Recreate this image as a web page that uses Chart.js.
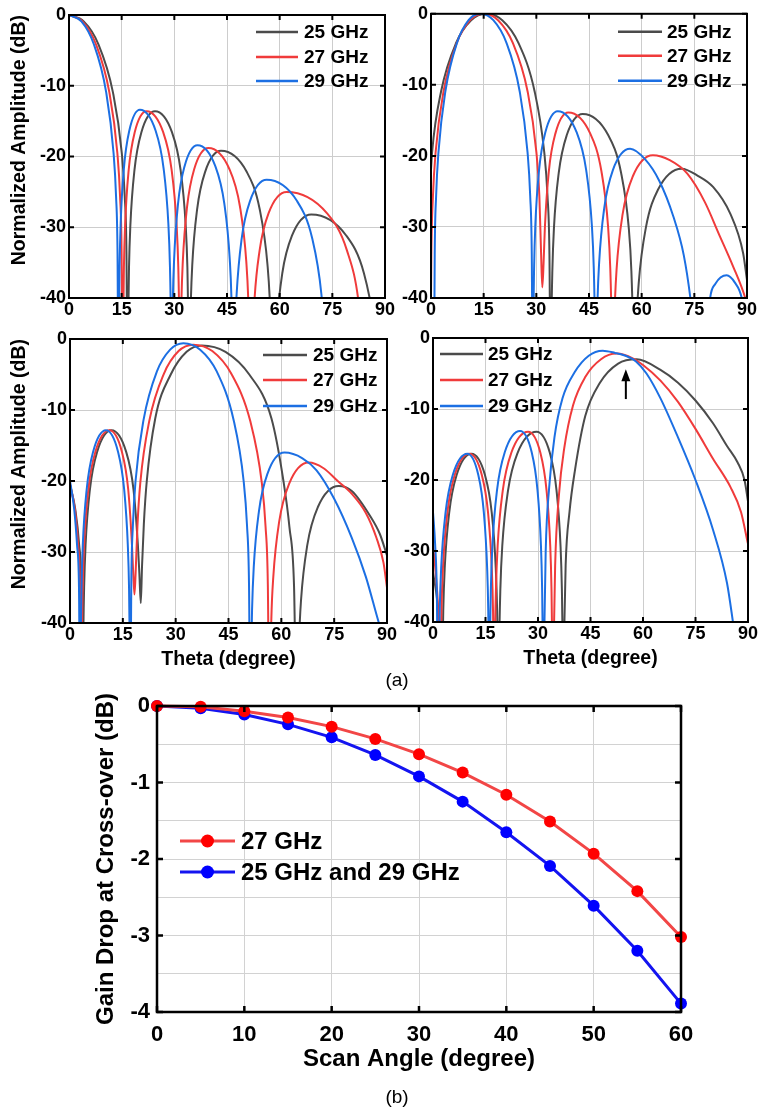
<!DOCTYPE html>
<html><head><meta charset="utf-8">
<script src="https://cdn.jsdelivr.net/npm/chart.js@4.4.0/dist/chart.umd.min.js"></script>
<style>
html,body{margin:0;padding:0;background:#fff;}
#wrap{position:relative;width:761px;height:1114px;overflow:hidden;background:#fff;}
canvas{position:absolute;left:0;top:0;}
.cap{position:absolute;font-family:"Liberation Sans",Arial,sans-serif;font-size:19px;color:#000;transform:translate(-50%,-50%);white-space:nowrap;}
</style></head><body>
<div id="wrap">
<canvas id="c1" width="761" height="1114"></canvas>
<canvas id="c2" width="761" height="1114"></canvas>
<canvas id="c3" width="761" height="1114"></canvas>
<canvas id="c4" width="761" height="1114"></canvas>
<canvas id="c5" width="761" height="1114"></canvas>
<div class="cap" style="left:397px;top:680px">(a)</div>
<div class="cap" style="left:397px;top:1097px">(b)</div>
</div>
<script>
const FONT = '"Liberation Sans", Arial, Helvetica, sans-serif';

// ---------- (a) tick labels / series names ----------
const thetaTicks = [0, 15, 30, 45, 60, 75, 90];
const ampTicks = [0, -10, -20, -30, -40];
const freqLabels = ['25 GHz', '27 GHz', '29 GHz'];
const freqColors = ['#4b4b4b', '#f03b3b', '#1c6fe3'];

// ---------- (a) panel 1 : [theta, dB] ----------
const P1_25 = [[0,0],[4.2,-0.9],[8.35,-4.1],[12.5,-10.9],[15.03,-19.5],[15.87,-25.6],[16.37,-33.8],[16.7,-55],
  [16.86,-43.6],[17.09,-35.7],[17.48,-29.7],[18.65,-21.9],[20.6,-16.6],[24.5,-13.6],[29.35,-16.6],[31.78,-21.9],[33.23,-29.7],[33.72,-35.7],[34.0,-43.6],[34.2,-55],
  [34.66,-41.3],[35.11,-35.3],[36.48,-27.5],[38.75,-22.2],[43.3,-19.2],[50.65,-22.2],[54.33,-27.5],[56.53,-35.3],[57.27,-41.3],[58,-55],
  [58.55,-50],[59.1,-44.3],[60.75,-36.5],[63.5,-31.2],[69,-28.2],[79,-31.2],[84,-36.5],[87,-44.3],[89,-55]];
const P1_27 = [[0,0],[3.83,-0.9],[7.65,-4.1],[11.48,-10.9],[13.77,-19.5],[14.54,-25.6],[14.99,-33.8],[15.3,-55],
  [15.44,-43.6],[15.64,-35.7],[15.98,-29.7],[17.0,-21.9],[18.7,-16.6],[22.1,-13.6],[26.85,-16.6],[29.23,-21.9],[30.65,-29.7],[31.13,-35.7],[31.41,-43.6],[31.6,-55],
  [32.0,-40.9],[32.41,-34.9],[33.63,-27.1],[35.65,-21.8],[39.7,-18.8],[45.7,-21.8],[48.7,-27.1],[50.5,-34.9],[51.1,-40.9],[51.7,-55],
  [52.2,-48],[52.73,-41.1],[54.28,-33.3],[56.85,-28],[62,-25],[73.45,-28],[79.18,-33.3],[82.61,-41.1],[84.9,-55]];
const P1_29 = [[0,0],[3.53,-0.9],[7.05,-4.1],[10.58,-10.9],[12.69,-19.5],[13.4,-25.6],[13.82,-33.8],[14.1,-55],
  [14.22,-43.4],[14.41,-35.5],[14.71,-29.5],[15.63,-21.7],[17.15,-16.4],[20.2,-13.4],[24.7,-16.4],[26.95,-21.7],[28.3,-29.5],[28.75,-35.5],[29.02,-43.4],[29.2,-55],
  [29.57,-40.5],[29.94,-34.5],[31.05,-26.7],[32.9,-21.4],[36.6,-18.4],[41.7,-21.4],[44.25,-26.7],[45.78,-34.5],[46.29,-40.5],[46.8,-55],
  [47.27,-45.4],[47.75,-39.4],[49.18,-31.6],[51.55,-26.3],[56.3,-23.3],[64.95,-26.3],[69.28,-31.6],[71.87,-39.4],[72.74,-45.4],[73.6,-55]];

// ---------- (a) panel 2 ----------
const P2_25 = [[0,-22],[0.31,-19.5],[2.88,-10.9],[7.15,-4.1],[11.43,-0.9],[15.7,0],[20.3,-0.9],[24.9,-4.1],[29.5,-10.9],[32.26,-19.5],[33.18,-25.6],[33.73,-33.8],[34.1,-55],
  [34.28,-44.1],[34.56,-36.2],[35.01,-30.2],[36.38,-22.4],[38.65,-17.1],[43.2,-14.1],[50.5,-17.1],[54.15,-22.4],[56.34,-30.2],[57.07,-36.2],[57.51,-44.1],[57.8,-55],
  [58.48,-43.9],[59.16,-37.9],[61.2,-30.1],[64.6,-24.8],[71.4,-21.8],[76,-22.8],[80.4,-24.4],[85.2,-28.1],[88.9,-33.7],[90,-37.5]];
const P2_27 = [[0,-40],[0.1,-33.8],[0.56,-25.6],[1.31,-19.5],[3.58,-10.9],[7.35,-4.1],[11.13,-0.9],[14.9,0],[19.1,-0.9],[23.3,-4.1],[27.5,-10.9],[30.02,-19.5],[30.86,-25.6],[31.36,-33.8],[31.7,-38.5],
  [32.07,-35],[32.44,-30],[33.55,-22.2],[35.4,-16.9],[39.1,-13.9],[45.4,-16.9],[48.55,-22.2],[50.44,-30],[51.07,-36],[51.45,-43.9],[51.7,-55],
  [52.28,-42],[52.85,-36],[54.58,-28.2],[57.45,-22.9],[63.2,-19.9],[68,-20.6],[73,-22.5],[78,-26.5],[82,-31],[86,-35.5],[89.5,-40],[90,-41]];
const P2_29 = [[0,-42],[0.8,-55],[1.06,-33.8],[1.46,-25.6],[2.12,-19.5],[4.1,-10.9],[7.4,-4.1],[10.7,-0.9],[14,0],[17.75,-0.9],[21.5,-4.1],[25.25,-10.9],[27.5,-19.5],[28.25,-25.6],[28.7,-33.8],[29,-55],
  [29.14,-43.7],[29.36,-35.8],[29.71,-29.8],[30.78,-22],[32.55,-16.7],[36.1,-13.7],[41.5,-16.7],[44.2,-22],[45.82,-29.8],[46.36,-35.8],[46.68,-43.7],[46.9,-55],
  [47.39,-41.1],[47.88,-35.1],[49.35,-27.3],[51.8,-22],[56.7,-19],[61,-20.5],[65,-23.5],[69,-28.5],[72,-34],[74,-40.5],[77,-55],
  [79.5,-40],[81,-38],[84.2,-36.8],[86.5,-37.8],[88.5,-40],[90,-45]];

// ---------- (a) panel 3 ----------
const P3_25 = [[0,-20.5],[1.5,-24],[2.6,-29],[3.2,-35],[3.6,-55],
  [3.76,-42.9],[4.01,-35],[4.42,-29],[5.65,-21.2],[7.7,-15.9],[11.8,-12.85],[15.95,-15.9],[18.03,-21.2],[19.27,-29],[19.69,-33],[20.1,-37.2],
  [20.45,-32],[20.97,-26],[21.8,-20],[24.2,-11.2],[28.6,-5],[33.1,-1.8],[37.4,-0.9],[44.15,-1.8],[50.9,-5],[57.2,-11.2],[60.6,-20],[62.3,-26.5],[63.6,-34.7],[64.4,-55],
  [65.0,-42.8],[65.59,-36.8],[67.38,-29],[70.35,-23.7],[76.3,-20.7],[80,-21.4],[85.3,-25],[88,-27.5],[90,-30.5]];
const P3_27 = [[0,-20.5],[1.4,-24],[2.3,-29],[2.85,-35],[3.2,-55],
  [3.36,-42.9],[3.6,-35],[4.0,-29],[5.2,-21.2],[7.2,-15.9],[11.2,-12.85],[14.75,-15.9],[16.53,-21.2],[17.59,-29],[17.95,-33],[18.3,-36],
  [18.63,-33],[19.14,-26.4],[19.97,-20.2],[22.48,-11.6],[26.65,-4.9],[30.83,-1.7],[35,-0.8],[40.4,-1.7],[45.8,-4.9],[51.2,-11.6],[54.44,-20.2],[55.52,-26.4],[56.17,-34.6],[56.6,-55],
  [57.16,-39.5],[57.72,-33.5],[59.4,-25.7],[62.2,-20.4],[67.8,-17.4],[72,-18.2],[76,-20],[80,-21.8],[84,-24.5],[87,-28],[89,-31.5],[90,-35]];
const P3_29 = [[0,-20],[1.2,-24],[2.0,-29],[2.55,-35],[2.9,-55],
  [3.05,-42.9],[3.27,-35],[3.63,-29],[4.73,-21.2],[6.55,-15.9],[10.2,-12.85],[13.65,-15.9],[15.38,-21.2],[16.41,-29],[16.76,-35],[16.96,-42.9],[17.1,-55],
  [17.4,-34.4],[17.86,-26.2],[18.61,-20],[20.88,-11.4],[24.65,-4.6],[28.43,-1.5],[32.2,-0.6],[36.95,-1.5],[41.7,-4.6],[46.45,-11.4],[49.3,-20],[50.25,-26.2],[50.82,-34.4],[51.2,-55],
  [51.39,-46],[51.69,-38.1],[52.17,-32.1],[53.63,-24.3],[56.05,-19],[60.9,-16],[66,-16.8],[70,-18.5],[75,-22.5],[80,-28],[84,-33.5],[87.7,-40],[89,-42]];

// ---------- (a) panel 4 ----------
const P4_25 = [[0,-33],[1.2,-37],[2.0,-42],[2.5,-55],
  [2.67,-46.3],[2.93,-38.4],[3.35,-32.4],[4.63,-24.6],[6.75,-19.3],[11,-16.3],[14.85,-19.3],[16.78,-24.6],[17.93,-32.4],[18.32,-38.4],[18.55,-46.3],[18.7,-55],
  [18.92,-43.2],[19.25,-35.3],[19.79,-29.3],[21.43,-21.5],[24.15,-16.2],[29.6,-13.2],[33.4,-16.2],[35.3,-21.5],[36.44,-29.3],[36.82,-35.3],[37.05,-43.2],[37.2,-55],
  [37.55,-40],[37.9,-32],[39,-24.5],[40.6,-18.5],[43.5,-11],[47.7,-6.3],[52.9,-3.6],[58.2,-3],[65,-4.5],[70,-6.3],[75,-8.8],[80,-12],[84,-15.2],[87,-17.5],[89,-20],[90,-23]];
const P4_27 = [[0,-29],[0.9,-34],[1.55,-40],[2,-55],
  [2.17,-46.3],[2.42,-38.4],[2.84,-32.4],[4.1,-24.6],[6.2,-19.3],[10.4,-16.3],[13.95,-19.3],[15.73,-24.6],[16.79,-32.4],[17.15,-38.4],[17.36,-46.3],[17.5,-55],
  [17.69,-43.2],[17.99,-35.3],[18.47,-29.3],[19.93,-21.5],[22.35,-16.2],[27.2,-13.2],[30.7,-16.2],[32.45,-21.5],[33.5,-29.3],[33.85,-35.3],[34.06,-43.2],[34.2,-55],
  [34.6,-40],[34.9,-32],[36,-22],[37.5,-15.5],[40,-9.5],[43.5,-5.5],[48,-3],[52.5,-2.2],[57.2,-2.9],[60,-3.8],[65,-6],[70,-9],[75,-12.8],[80,-17],[85,-21],[88,-24.5],[90,-29]];
const P4_29 = [[0,-24.5],[0.6,-29],[1.1,-36],[1.5,-55],
  [1.67,-46.3],[1.92,-38.4],[2.33,-32.4],[3.58,-24.6],[5.65,-19.3],[9.8,-16.3],[12.95,-19.3],[14.53,-24.6],[15.47,-32.4],[15.79,-38.4],[15.97,-46.3],[16.1,-55],
  [16.28,-43.1],[16.54,-35.2],[16.98,-29.2],[18.3,-21.4],[20.5,-16.1],[24.9,-13.1],[28.2,-16.1],[29.85,-21.4],[30.84,-29.2],[31.17,-35.2],[31.37,-43.1],[31.5,-55],
  [31.85,-40],[32.2,-30],[33.2,-21],[34.7,-14],[37,-8.5],[40.5,-4.8],[44.5,-2.5],[48.5,-1.8],[52,-2.1],[55,-2.5],[58,-3.3],[61,-5],[65,-8.5],[70,-14],[75,-20],[80,-27],[84,-34.5],[86,-41]];
const P4_arrow = [55.1, -8.6, -4.4]; // theta, tail dB, head dB

// ---------- (b) ----------
const scanAngle = [0, 5, 10, 15, 20, 25, 30, 35, 40, 45, 50, 55, 60];
const drop27 = [0, -0.01, -0.07, -0.15, -0.27, -0.43, -0.63, -0.87, -1.16, -1.51, -1.93, -2.42, -3.02];
const drop2529 = [0, -0.03, -0.11, -0.24, -0.41, -0.64, -0.92, -1.25, -1.65, -2.09, -2.61, -3.2, -3.89];
const scanTicks = [0, 10, 20, 30, 40, 50, 60];
const dropGrid = [0, -0.5, -1, -1.5, -2, -2.5, -3, -3.5, -4];
const dropTicks = [0, -1, -2, -3, -4];
const dropLabels = ['27 GHz', '25 GHz and 29 GHz'];
const dropLineColors = ['#f24646', '#1414f0'];
const dropPointColors = ['#ff0000', '#0000ff'];

// ---------- plugins ----------
const framePlugin = {
  id: 'frame',
  afterDatasetsDraw(chart, args, o) {
    const {ctx, chartArea: a, scales: {x, y}} = chart;
    ctx.save();
    ctx.strokeStyle = '#000';
    ctx.lineWidth = o.lw || 2;
    const len = o.len || 5;
    ctx.beginPath();
    (o.xt || []).forEach(v => {
      const px = x.getPixelForValue(v);
      ctx.moveTo(px, a.bottom); ctx.lineTo(px, a.bottom - len);
      ctx.moveTo(px, a.top); ctx.lineTo(px, a.top + len);
    });
    (o.yt || []).forEach(v => {
      const py = y.getPixelForValue(v);
      ctx.moveTo(a.left, py); ctx.lineTo(a.left + len, py);
      ctx.moveTo(a.right, py); ctx.lineTo(a.right - len, py);
    });
    ctx.stroke();
    ctx.strokeRect(a.left, a.top, a.right - a.left, a.bottom - a.top);
    ctx.restore();
  }
};
const legendPlugin = {
  id: 'leg',
  afterDraw(chart, args, o) {
    if (!o || !o.items) return;
    const {ctx, chartArea: a} = chart;
    ctx.save();
    ctx.font = 'bold ' + o.size + 'px ' + FONT;
    ctx.textBaseline = 'middle';
    ctx.textAlign = 'left';
    o.items.forEach((it, i) => {
      const yy = a.top + o.dy[i];
      ctx.strokeStyle = it.color; ctx.lineWidth = it.lw;
      ctx.beginPath(); ctx.moveTo(a.left + o.x1, yy); ctx.lineTo(a.left + o.x2, yy); ctx.stroke();
      if (it.marker) {
        ctx.fillStyle = it.marker;
        ctx.beginPath(); ctx.arc(a.left + (o.x1 + o.x2) / 2, yy, it.r, 0, Math.PI * 2); ctx.fill();
      }
      ctx.fillStyle = '#000';
      ctx.fillText(it.text, a.left + o.tx, yy + 1);
    });
    ctx.restore();
  }
};
const arrowPlugin = {
  id: 'arrow',
  afterDraw(chart, args, o) {
    if (!o || !o.pt) return;
    const {ctx, scales: {x, y}} = chart;
    const px = x.getPixelForValue(o.pt[0]);
    const y1 = y.getPixelForValue(o.pt[1]);
    const y2 = y.getPixelForValue(o.pt[2]);
    ctx.save();
    ctx.strokeStyle = '#000'; ctx.fillStyle = '#000'; ctx.lineWidth = 2;
    ctx.beginPath(); ctx.moveTo(px, y1); ctx.lineTo(px, y2 + 8); ctx.stroke();
    ctx.beginPath(); ctx.moveTo(px, y2); ctx.lineTo(px - 4.5, y2 + 12); ctx.lineTo(px + 4.5, y2 + 12); ctx.closePath(); ctx.fill();
    ctx.restore();
  }
};

const tickFontA = {family: FONT, size: 18, weight: 'bold'};
const titleFontA = {family: FONT, size: 19.5, weight: 'bold'};

function ampChart(id, area, series, o) {
  const W = o.yw, H = o.xh;
  return new Chart(document.getElementById(id), {
    type: 'line',
    data: {
      datasets: series.map((d, i) => ({
        label: freqLabels[i],
        data: d.map(p => ({x: p[0], y: p[1]})),
        borderColor: freqColors[i],
        borderWidth: 2,
        pointRadius: 0,
        cubicInterpolationMode: 'monotone',
        fill: false,
        order: 2 - i
      }))
    },
    options: {
      responsive: false, animation: false, devicePixelRatio: 1,
      layout: {padding: {left: area.L - W, top: area.T, right: 761 - area.R, bottom: 1114 - area.B - H}},
      plugins: {
        legend: {display: false}, tooltip: {enabled: false},
        frame: {xt: thetaTicks, yt: ampTicks, len: 5, lw: 2},
        leg: {items: freqLabels.map((t, i) => ({text: t, color: freqColors[i], lw: 2.5})), size: 19, x1: o.lg[0], x2: o.lg[1], tx: o.lg[2], dy: o.lg.slice(3)},
        arrow: o.arrow ? {pt: o.arrow} : {}
      },
      scales: {
        x: {
          type: 'linear', min: 0, max: 90,
          afterBuildTicks: s => { s.ticks = thetaTicks.map(v => ({value: v})); },
          afterFit: s => { s.height = H; },
          ticks: {font: tickFontA, color: '#000', padding: 1, maxRotation: 0, autoSkip: false, callback: v => String(v)},
          grid: {color: '#cdcdcd', lineWidth: 1, drawTicks: false},
          border: {display: false},
          title: o.xTitle ? {display: true, text: 'Theta (degree)', font: titleFontA, color: '#000', padding: {top: 0, bottom: 1.6}} : {display: false}
        },
        y: {
          type: 'linear', min: -40, max: 0,
          afterBuildTicks: s => { s.ticks = ampTicks.map(v => ({value: v})); },
          afterFit: s => { s.width = W; },
          ticks: {font: tickFontA, color: '#000', padding: 3, autoSkip: false, callback: v => String(v)},
          grid: {color: '#cdcdcd', lineWidth: 1, drawTicks: false},
          border: {display: false},
          title: o.yTitle ? {display: true, text: 'Normalized Amplitude (dB)', align: 'end', font: titleFontA, color: '#000', padding: {top: 8.3, bottom: 0}} : {display: false}
        }
      }
    },
    plugins: [framePlugin, legendPlugin, arrowPlugin]
  });
}

ampChart('c1', {L: 69, T: 15, R: 385, B: 298}, [P1_25, P1_27, P1_29], {yw: 69, xh: 30, yTitle: true, lg: [187, 229, 235, 17, 42, 66]});
ampChart('c2', {L: 431, T: 13, R: 747, B: 298}, [P2_25, P2_27, P2_29], {yw: 45, xh: 30, lg: [187, 231, 236, 18, 42, 67]});
ampChart('c3', {L: 70, T: 339, R: 387, B: 623}, [P3_25, P3_27, P3_29], {yw: 70, xh: 50, yTitle: true, xTitle: true, lg: [193, 237, 243, 16, 41, 67]});
ampChart('c4', {L: 433, T: 338, R: 748, B: 622}, [P4_25, P4_27, P4_29], {yw: 45, xh: 50, xTitle: true, arrow: P4_arrow, lg: [7, 50, 55, 16, 42, 68]});

// ---------- (b) chart ----------
(function () {
  const area = {L: 157, T: 706, R: 681, B: 1012};
  const W = 157, H = 70;
  const tickFontB = {family: FONT, size: 22, weight: 'bold'};
  const titleFontB = {family: FONT, size: 24, weight: 'bold'};
  const series = [drop27, drop2529];
  new Chart(document.getElementById('c5'), {
    type: 'line',
    data: {
      datasets: series.map((d, i) => ({
        label: dropLabels[i],
        data: d.map((v, k) => ({x: scanAngle[k], y: v})),
        borderColor: dropLineColors[i],
        backgroundColor: dropPointColors[i],
        pointBackgroundColor: dropPointColors[i],
        pointBorderColor: dropPointColors[i],
        pointRadius: 6, pointBorderWidth: 0,
        borderWidth: 3, tension: 0, fill: false, clip: false
      }))
    },
    options: {
      responsive: false, animation: false, devicePixelRatio: 1,
      layout: {padding: {left: area.L - W, top: area.T, right: 761 - area.R, bottom: 1114 - area.B - H}},
      plugins: {
        legend: {display: false}, tooltip: {enabled: false},
        frame: {xt: scanTicks, yt: dropTicks, len: 6, lw: 2.5},
        leg: {items: dropLabels.map((t, i) => ({text: t, color: dropLineColors[i], lw: 3, marker: dropPointColors[i], r: 6.5})), size: 24, x1: 23, x2: 78, tx: 84, dy: [135, 166]},
        arrow: {}
      },
      scales: {
        x: {
          type: 'linear', min: 0, max: 60,
          afterBuildTicks: s => { s.ticks = scanTicks.map(v => ({value: v})); },
          afterFit: s => { s.height = H; },
          ticks: {font: tickFontB, color: '#000', padding: 9.8, maxRotation: 0, autoSkip: false, callback: v => String(v)},
          grid: {color: '#d2d2d2', lineWidth: 1, drawTicks: false},
          border: {display: false},
          title: {display: true, text: 'Scan Angle (degree)', font: titleFontB, color: '#000', padding: {top: 0, bottom: 8.6}}
        },
        y: {
          type: 'linear', min: -4, max: 0,
          afterBuildTicks: s => { s.ticks = dropGrid.map(v => ({value: v})); },
          afterFit: s => { s.width = W; },
          ticks: {font: tickFontB, color: '#000', padding: 7, autoSkip: false, callback: v => (dropTicks.includes(v) ? String(v) : '')},
          grid: {color: '#d2d2d2', lineWidth: 1, drawTicks: false},
          border: {display: false},
          title: {display: true, text: 'Gain Drop at Cross-over (dB)', font: titleFontB, color: '#000', padding: {top: 91.6, bottom: 0}}
        }
      }
    },
    plugins: [framePlugin, legendPlugin, arrowPlugin]
  });
})();
</script>
</body></html>
